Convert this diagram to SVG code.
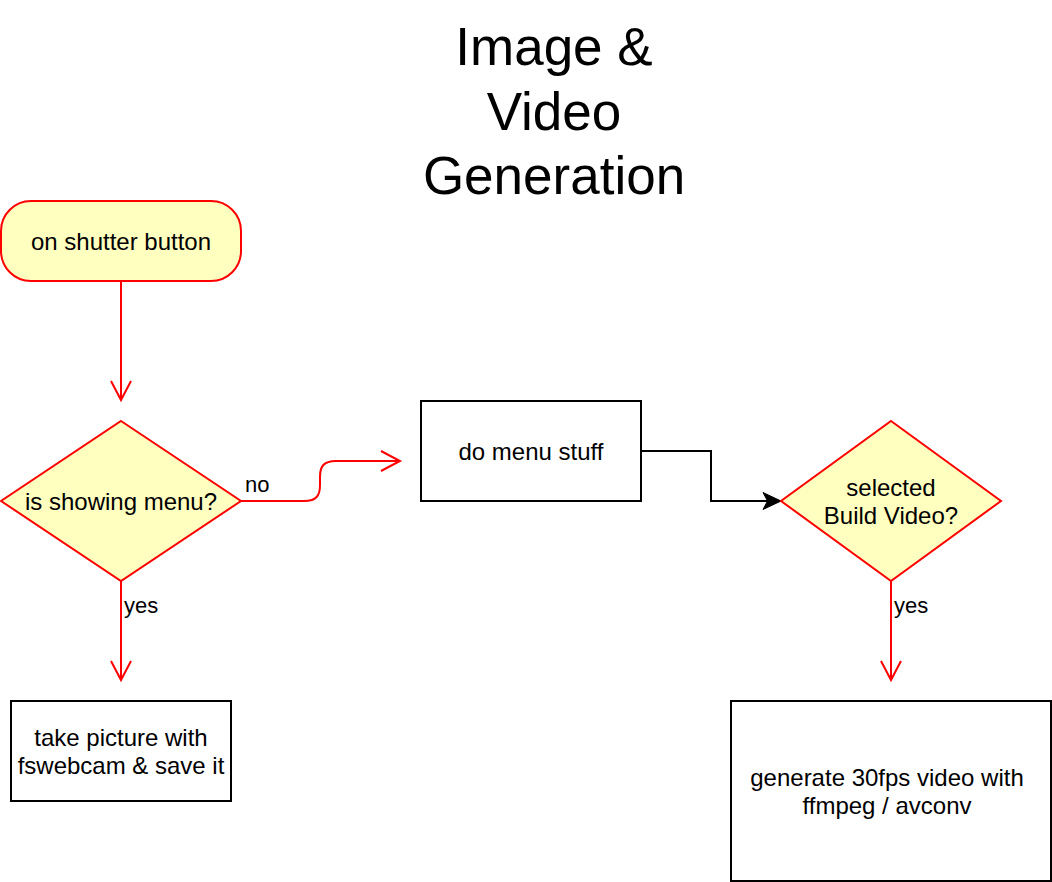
<svg xmlns="http://www.w3.org/2000/svg" width="1052" height="882" viewBox="0 0 1052 882">
<defs>
<style>
text{font-family:"Liberation Sans",Arial,Helvetica,sans-serif;fill:#000;}
.t{font-size:24px;text-anchor:middle;}
.lbl{font-size:22px;}
.title{font-size:53px;text-anchor:middle;}
.dec{fill:#ffffc0;stroke:#ff0000;stroke-width:2;}
.box{fill:#ffffff;stroke:#000;stroke-width:2;}
.red{fill:none;stroke:#ff0000;stroke-width:2;}
.blk{fill:none;stroke:#000;stroke-width:2;}
</style>
<marker id="open" markerWidth="24" markerHeight="24" viewBox="-20 -12 24 24" refX="0" refY="0" orient="auto" markerUnits="userSpaceOnUse">
<path d="M-19,-10 L0,0 L-19,10" fill="none" stroke="#ff0000" stroke-width="2"/>
</marker>
<marker id="block" markerWidth="24" markerHeight="24" viewBox="-20 -12 24 24" refX="0" refY="0" orient="auto" markerUnits="userSpaceOnUse">
<path d="M0,0 L-18,-8.5 L-13.5,0 L-18,8.5 Z" fill="#000" stroke="#000" stroke-width="1"/>
</marker>
</defs>
<rect width="1052" height="882" fill="#ffffff"/>
<g id="title">
<text class="title" x="554" y="65">Image &amp;</text>
<text class="title" x="554" y="130">Video</text>
<text class="title" x="554" y="194">Generation</text>
</g>
<g id="connectors">
<path class="red" d="M121,281 L121,400" marker-end="url(#open)"/>
<path class="red" d="M241,501 L304,501 C317,501 320,495 320,485 L320,477 C320,467 323,461 336,461 L400,461" marker-end="url(#open)"/>
<path class="red" d="M121,581 L121,680" marker-end="url(#open)"/>
<path class="blk" d="M641,451 L711,451 L711,501 L781,501" marker-end="url(#block)"/>
<path class="red" d="M891,581 L891,680" marker-end="url(#open)"/>
<text class="lbl" x="245" y="492">no</text>
<text class="lbl" x="124" y="613">yes</text>
<text class="lbl" x="894" y="613">yes</text>
</g>
<g id="shutter">
<rect class="dec" x="1" y="201" width="240" height="80" rx="30" ry="30"/>
<text class="t" x="121" y="250">on shutter button</text>
</g>
<g id="showingMenu">
<path class="dec" d="M121,421 L241,501 L121,581 L1,501 Z"/>
<text class="t" x="121" y="510">is showing menu?</text>
</g>
<g id="menuStuff">
<rect class="box" x="421" y="401" width="220" height="100"/>
<text class="t" x="531" y="460">do menu stuff</text>
</g>
<g id="buildVideo">
<path class="dec" d="M891,421 L1001,501 L891,581 L781,501 Z"/>
<text class="t" x="891" y="496">selected</text>
<text class="t" x="891" y="524">Build Video?</text>
</g>
<g id="takePicture">
<rect class="box" x="11" y="701" width="220" height="100"/>
<text class="t" x="121" y="746">take picture with</text>
<text class="t" x="121" y="774">fswebcam &amp; save it</text>
</g>
<g id="generateVideo">
<rect class="box" x="731" y="701" width="320" height="180"/>
<text class="t" x="887" y="786">generate 30fps video with</text>
<text class="t" x="887" y="814">ffmpeg / avconv</text>
</g>
</svg>
